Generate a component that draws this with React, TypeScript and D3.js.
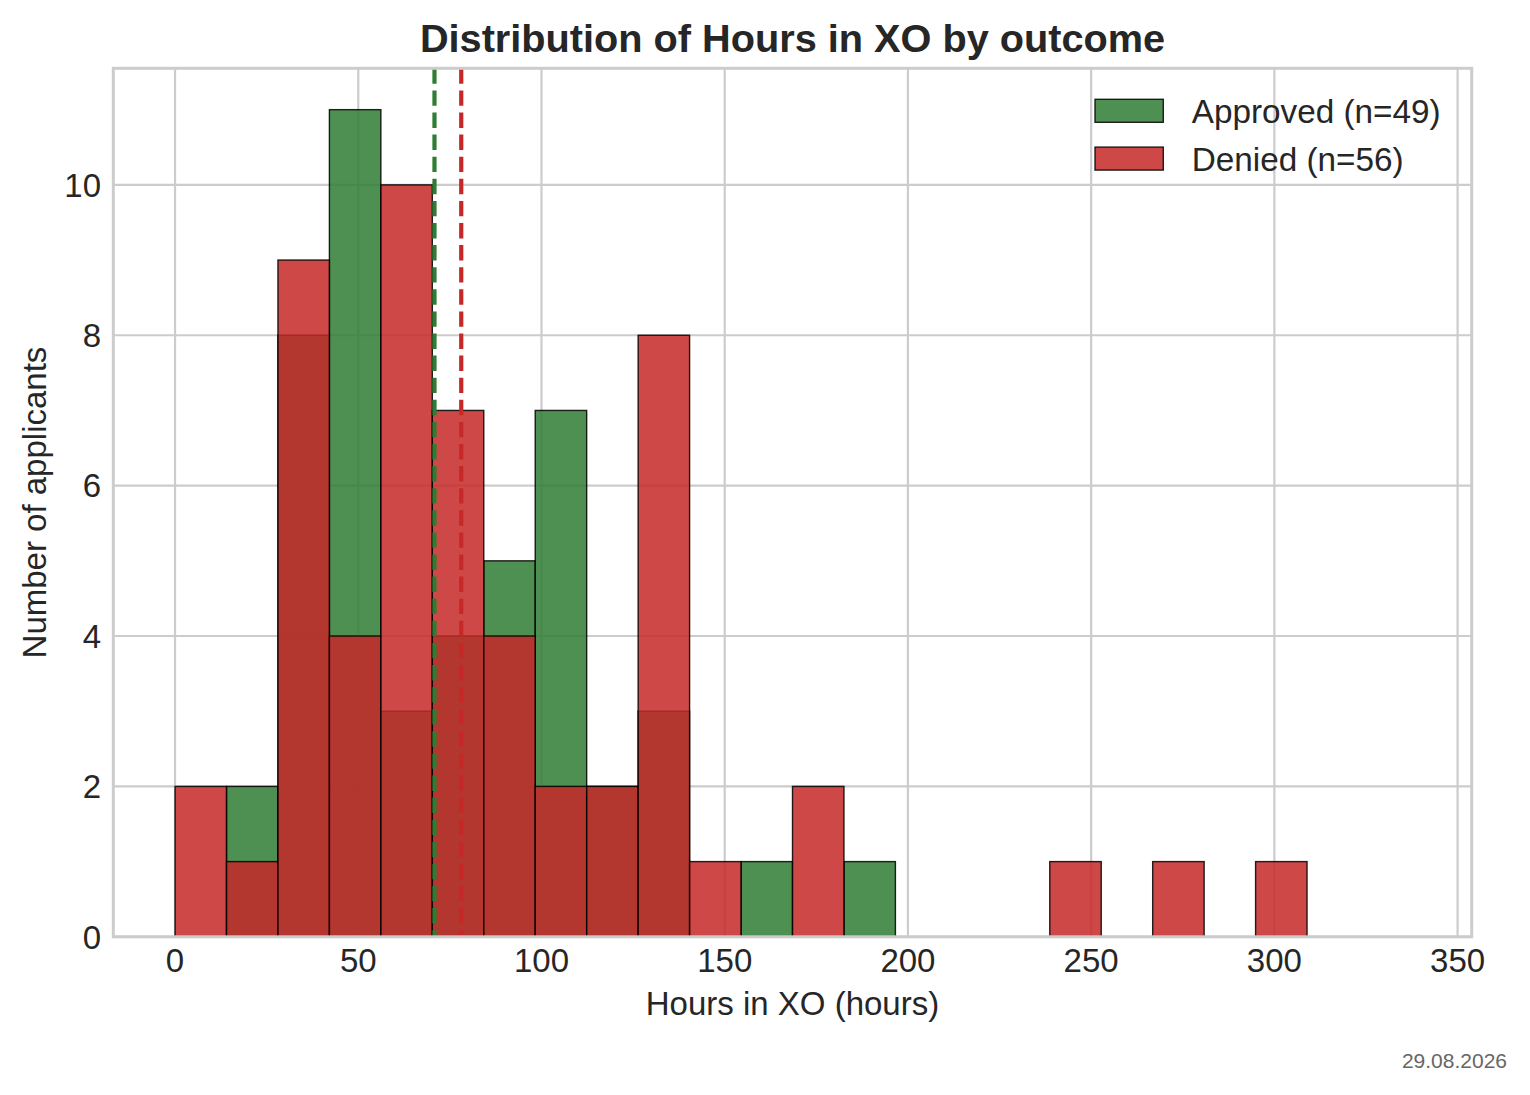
import React from "react";
import * as d3 from "d3";

// ---- data ----
const BIN_COUNT = 24;
const X_DATA_MIN = 0;
const X_DATA_MAX = 337;
const APPROVED_COUNTS = [0, 2, 8, 11, 3, 4, 5, 7, 2, 3, 0, 1, 0, 1, 0, 0, 0, 0, 0, 0, 0, 0, 0, 0];
const DENIED_COUNTS = [2, 1, 9, 4, 10, 7, 4, 2, 2, 8, 1, 0, 2, 0, 0, 0, 0, 1, 0, 1, 0, 1, 0, 0];
const APPROVED_MEAN = 70.8;
const DENIED_MEAN = 78.1;
const X_TICKS = [0, 50, 100, 150, 200, 250, 300, 350];
const Y_TICKS = [0, 2, 4, 6, 8, 10];
const SERIES_LABELS = ["Approved (n=49)", "Denied (n=56)"];
const TITLE = "Distribution of Hours in XO by outcome";
const X_LABEL = "Hours in XO (hours)";
const Y_LABEL = "Number of applicants";
const DATE_LABEL = "29.08.2026";

const W = 1530;
const H = 1095;
const M = { left: 113.3, right: 1471.7, top: 68.3, bottom: 936.8 };
const FONT = "'Liberation Sans', Arial, Helvetica, sans-serif";
const TEXT = "#262626";
const GRID = "#cccccc";
const GREEN = "#2e7d32";
const RED = "#c62828";

export default function App() {
  const span = X_DATA_MAX - X_DATA_MIN;
  const x = d3
    .scaleLinear()
    .domain([X_DATA_MIN - span * 0.05, X_DATA_MAX + span * 0.05])
    .range([M.left, M.right]);
  const yMax = d3.max([...APPROVED_COUNTS, ...DENIED_COUNTS]) as number;
  const y = d3.scaleLinear().domain([0, yMax * 1.05]).range([M.bottom, M.top]);
  const binW = span / BIN_COUNT;

  const bars = (counts: number[], color: string, key: string) =>
    counts.map((c, i) =>
      c > 0 ? (
        <rect
          key={key + i}
          x={x(X_DATA_MIN + i * binW)}
          y={y(c)}
          width={x(X_DATA_MIN + (i + 1) * binW) - x(X_DATA_MIN + i * binW)}
          height={y(0) - y(c)}
          fill={color}
          fillOpacity={0.85}
          stroke="#000"
          strokeOpacity={0.85}
          strokeWidth={1.4}
        />
      ) : null
    );

  return (
    <div style={{ position: "absolute", left: 0, top: 0 }}>
      <svg width={W} height={H} style={{ display: "block", background: "#fff" }} fontFamily={FONT}>
        <rect x={0} y={0} width={W} height={H} fill="#fff" />
        {/* grid */}
        {X_TICKS.map((t) => (
          <line key={"gx" + t} x1={x(t)} x2={x(t)} y1={M.top} y2={M.bottom} stroke={GRID} strokeWidth={2.2} />
        ))}
        {Y_TICKS.map((t) => (
          <line key={"gy" + t} x1={M.left} x2={M.right} y1={y(t)} y2={y(t)} stroke={GRID} strokeWidth={2.2} />
        ))}
        {/* bars */}
        <g>{bars(APPROVED_COUNTS, GREEN, "a")}</g>
        <g>{bars(DENIED_COUNTS, RED, "d")}</g>
        {/* mean lines */}
        <line x1={x(APPROVED_MEAN)} x2={x(APPROVED_MEAN)} y1={M.top} y2={M.bottom} stroke={GREEN} strokeWidth={4.2} strokeDasharray="15.4 6.7" />
        <line x1={x(DENIED_MEAN)} x2={x(DENIED_MEAN)} y1={M.top} y2={M.bottom} stroke={RED} strokeWidth={4.2} strokeDasharray="15.4 6.7" />
        {/* spines */}
        <rect x={M.left} y={M.top} width={M.right - M.left} height={M.bottom - M.top} fill="none" stroke={GRID} strokeWidth={3} />
        {/* tick labels */}
        {X_TICKS.map((t) => (
          <text key={"tx" + t} x={x(t)} y={972} textAnchor="middle" fontSize={33} fill={TEXT}>
            {t}
          </text>
        ))}
        {Y_TICKS.map((t) => (
          <text key={"ty" + t} x={101} y={y(t) + 11.8} textAnchor="end" fontSize={33} fill={TEXT}>
            {t}
          </text>
        ))}
        {/* axis labels */}
        <text x={(M.left + M.right) / 2} y={1015} textAnchor="middle" fontSize={33} fill={TEXT}>
          {X_LABEL}
        </text>
        <text
          transform={`translate(46,${(M.top + M.bottom) / 2}) rotate(-90)`}
          textAnchor="middle"
          fontSize={33}
          fill={TEXT}
        >
          {Y_LABEL}
        </text>
        {/* title */}
        <text x={(M.left + M.right) / 2} y={51.5} textAnchor="middle" fontSize={39.7} fontWeight="bold" fill={TEXT}>
          {TITLE}
        </text>
        {/* legend */}
        {[GREEN, RED].map((c, i) => (
          <g key={"lg" + i}>
            <rect
              x={1095}
              y={99.3 + i * 47.8}
              width={68.3}
              height={23}
              fill={c}
              fillOpacity={0.85}
              stroke="#000"
              strokeOpacity={0.85}
              strokeWidth={1.4}
            />
            <text x={1191.7} y={123.3 + i * 47.2} fontSize={33.3} fill={TEXT}>
              {SERIES_LABELS[i]}
            </text>
          </g>
        ))}
        {/* date */}
        <text x={1507} y={1068} textAnchor="end" fontSize={21} fill="#666666">
          {DATE_LABEL}
        </text>
      </svg>
    </div>
  );
}
